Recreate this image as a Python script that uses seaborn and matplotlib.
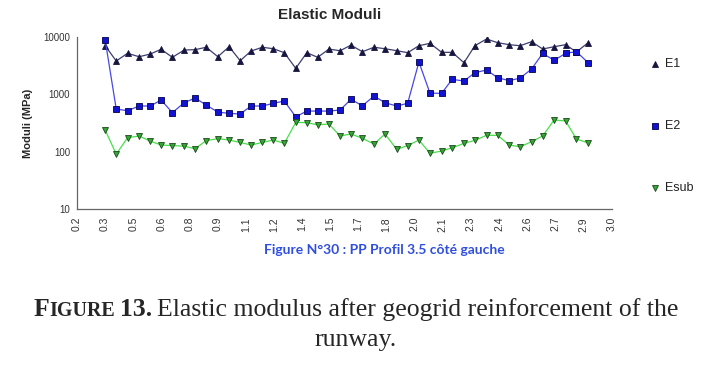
import numpy as np
import pandas as pd
import seaborn as sns
import matplotlib
matplotlib.use("Agg")
import matplotlib.pyplot as plt
from matplotlib.ticker import FixedLocator, NullLocator

# distance along profile (km) and moduli (MPa)
distance = [0.348, 0.406, 0.465, 0.526, 0.584, 0.641, 0.700, 0.762, 0.819, 0.877,
            0.938, 0.997, 1.055, 1.112, 1.171, 1.229, 1.286, 1.346, 1.404, 1.461,
            1.520, 1.578, 1.635, 1.695, 1.756, 1.813, 1.875, 1.932, 1.991, 2.049,
            2.110, 2.165, 2.227, 2.284, 2.345, 2.403, 2.464, 2.521, 2.581, 2.639,
            2.699, 2.759, 2.816, 2.877]

e1 = [6970, 3780, 5140, 4490, 4990, 6040, 4380, 5870, 5950, 6550,
      4490, 6700, 3830, 5640, 6550, 6180, 5270, 2820, 5270, 4380,
      6100, 5700, 7120, 5490, 6550, 6180, 5710, 5270, 6970, 7670,
      5350, 5350, 3530, 6970, 9120, 7870, 7260, 6970, 8190, 6110,
      6700, 7260, 5420, 7870]

e2 = [8770, 553, 517, 624, 624, 793, 479, 712, 859, 650,
      489, 465, 453, 624, 624, 695, 763, 405, 510, 510,
      510, 531, 815, 630, 931, 712, 624, 695, 3630, 1040,
      1040, 1810, 1700, 2360, 2640, 1940, 1720, 1910, 2740, 5140,
      3880, 5140, 5490, 3530]

esub = [238, 91, 175, 188, 153, 131, 128, 125, 113, 156,
        169, 160, 145, 131, 145, 160, 140, 324, 320, 294,
        303, 188, 204, 171, 136, 204, 110, 128, 160, 94,
        103, 117, 140, 158, 193, 193, 131, 122, 150, 188,
        357, 343, 166, 143]

tick_pos = [0.2, 0.347, 0.495, 0.642, 0.789, 0.937, 1.084, 1.232, 1.379, 1.526,
            1.674, 1.821, 1.968, 2.116, 2.263, 2.411, 2.558, 2.705, 2.853, 3.0]
tick_labels = ["0.2", "0.3", "0.5", "0.6", "0.8", "0.9", "1.1", "1.2", "1.4", "1.5",
               "1.7", "1.8", "2.0", "2.1", "2.3", "2.4", "2.6", "2.7", "2.9", "3.0"]
y_ticks = [10, 100, 1000, 10000]

sns.set_style("white")
plt.rcParams["font.family"] = ["Liberation Sans", "DejaVu Sans"]

fig = plt.figure(figsize=(7.12, 3.67), dpi=100)
ax = fig.add_axes([0.108, 0.4297, 0.751, 0.4703])

# series: (values, label, marker, line colour, marker face, marker edge, size)
series = [
    (e1, "E1", "^", "#3e3e70", "#16163e", "#16163e", 4.3),
    (e2, "E2", "s", "#4848e6", "#1212d2", "#00004a", 4.3),
    (esub, "Esub", "v", "#48e048", "#35a535", "#1a4a1a", 4.3),
]
for vals, lab, mk, lc, mf, me, ms in series:
    df = pd.DataFrame({"x": distance, "y": vals})
    sns.lineplot(data=df, x="x", y="y", ax=ax, color=lc, linewidth=0.9,
                 marker=mk, markersize=ms, markerfacecolor=mf,
                 markeredgecolor=me, markeredgewidth=0.6, label=lab,
                 legend=False)

ax.set_yscale("log")
ax.set_xlim(0.2, 3.0)
ax.set_ylim(10, 10000)
ax.yaxis.set_major_locator(FixedLocator(y_ticks))
ax.yaxis.set_minor_locator(NullLocator())
ax.set_yticklabels([str(v) for v in y_ticks])
ax.set_xticks(tick_pos)
ax.set_xticklabels(tick_labels, rotation=90)
ax.tick_params(axis="x", direction="inout", length=9, width=0.8,
               colors="#333333", labelsize=7.5, pad=1)
ax.tick_params(axis="y", direction="out", length=4, width=0.8,
               colors="#333333", labelsize=7, pad=1)
ax.set_xlabel("")
ax.set_ylabel("Moduli (MPa)", fontsize=8, fontweight="bold", labelpad=7)
sns.despine(ax=ax)
for s in ["left", "bottom"]:
    ax.spines[s].set_color("#666666")
    ax.spines[s].set_linewidth(0.9)

fig.text(0.463, 0.958, "Elastic Moduli", ha="center", va="center",
         fontsize=11, fontweight="bold")

# legend drawn as separate entries on the right, like the original
leg_y = [0.826, 0.657, 0.489]
for (vals, lab, mk, lc, mf, me, ms), yy in zip(series, leg_y):
    fig.lines.append(plt.Line2D([0.92], [yy], transform=fig.transFigure,
                                marker=mk, color=mf, markeredgecolor=me,
                                markersize=4.5, markeredgewidth=0.6,
                                linestyle="none"))
    fig.text(0.934, yy, lab, ha="left", va="center", fontsize=9, color="#222222")

fig.text(0.54, 0.318, "Figure N°30 : PP Profil 3.5 côté gauche", ha="center",
         va="center", fontsize=10, fontweight="bold", color="#2f4ee0",
         family=["Lato", "DejaVu Sans"])

# bottom caption with small caps "FIGURE"
serif = ["Liberation Serif", "DejaVu Serif"]
big = 18.5
pieces = [("F", big, "bold", 0), ("IGURE", big * 0.78, "bold", 0),
          ("13.", big, "bold", 5), ("Elastic modulus after geogrid reinforcement of the", big, "normal", 5)]
texts = [fig.text(0, 0.14, p[0], fontsize=p[1], fontweight=p[2], family=serif,
                  va="baseline", ha="left") for p in pieces]
fig.canvas.draw()
r = fig.canvas.get_renderer()
widths = [t.get_window_extent(r).width for t in texts]
total = sum(widths) + sum(p[3] for p in pieces)
x = (712 - total) / 2
for t, w, p in zip(texts, widths, pieces):
    x += p[3]
    t.set_x(x / 712)
    x += w
fig.text(0.5, 0.056, "runway.", fontsize=big, family=serif, ha="center", va="baseline")

fig.savefig("out.png", dpi=100)
